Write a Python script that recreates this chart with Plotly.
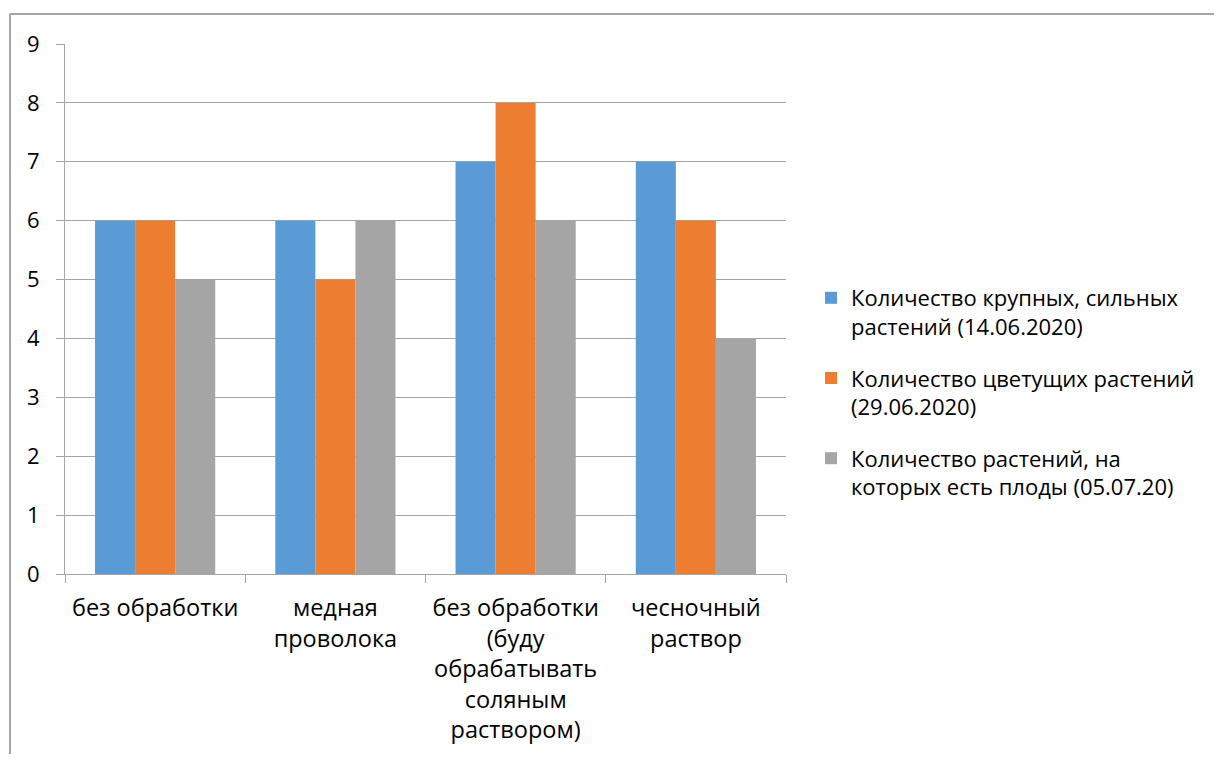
import plotly.graph_objects as go

categories = [
    "без обработки",
    "медная<br>проволока",
    "без обработки<br>(буду<br>обрабатывать<br>соляным<br>раствором)",
    "чесночный<br>раствор",
]
series_names = [
    "Количество крупных, сильных<br>растений (14.06.2020)",
    "Количество цветущих растений<br>(29.06.2020)",
    "Количество растений, на<br>которых есть плоды (05.07.20)",
]
series_values = [
    [6, 6, 7, 7],
    [6, 5, 8, 6],
    [5, 6, 6, 4],
]
colors = ["#5B9BD5", "#ED7D31", "#A5A5A5"]
y_ticks = [0, 1, 2, 3, 4, 5, 6, 7, 8, 9]

FONT = "Open Sans"
OFF = 8  # page body margin
W, H = 1222 - 2 * OFF, 762 - 2 * OFF
# plot area in page pixels
L, R, T, B = 65, 786, 44, 574
l, r, t, b = L - OFF, W - (R - OFF), T - OFF, H - (B - OFF)

def px_x(p):
    return (p - L) / (R - L)

def px_y(p):
    return (B - p) / (B - T)

fig = go.Figure()
for i, (name, vals) in enumerate(zip(series_names, series_values)):
    fig.add_trace(go.Bar(
        x=categories, y=vals, name=name,
        marker=dict(color=colors[i], line=dict(width=0)),
        legendgroup=f"g{i}",
    ))

grid = "#A6A6A6"
fig.update_layout(
    width=W, height=H,
    margin=dict(l=l, r=r, t=t, b=b, pad=0),
    paper_bgcolor="white", plot_bgcolor="white",
    barmode="group", bargap=1/3, bargroupgap=0,
    font=dict(family=FONT, size=22, color="#000000"),
    legend=dict(
        x=px_x(811), xanchor="left",
        y=px_y(277), yanchor="top",
        font=dict(family=FONT, size=22),
        tracegroupgap=20, valign="top",
        itemwidth=30,
    ),
    showlegend=True,
)
fig.update_xaxes(
    showline=True, linecolor=grid, linewidth=1,
    ticks="outside", tickson="boundaries", ticklen=8, tickcolor=grid,
    showgrid=False, tickfont=dict(family=FONT, size=23.5),
    ticklabelstandoff=13, automargin=False,
)
fig.update_yaxes(
    range=[0, 9], tickvals=y_ticks,
    showline=True, linecolor=grid, linewidth=1,
    showgrid=True, gridcolor=grid, gridwidth=1,
    ticks="outside", ticklen=8, tickcolor=grid,
    tickfont=dict(family=FONT, size=22),
    zeroline=False, ticklabelstandoff=12, automargin=False,
)

# chart frame (cropped at right and bottom)
fig.add_shape(type="line", xref="paper", yref="paper",
              x0=px_x(10), x1=px_x(10), y0=px_y(800), y1=px_y(14),
              line=dict(color="#A6A6A6", width=2))
fig.add_shape(type="line", xref="paper", yref="paper",
              x0=px_x(10), x1=px_x(1300), y0=px_y(14), y1=px_y(14),
              line=dict(color="#A6A6A6", width=2))

fig.write_html("out.html")
